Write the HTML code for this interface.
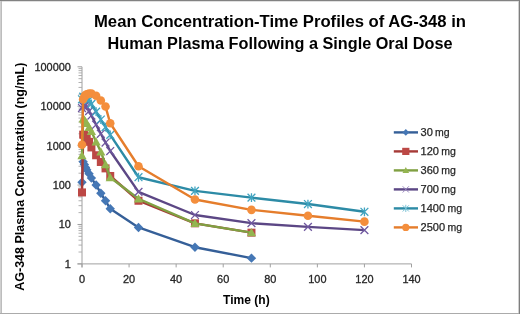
<!DOCTYPE html>
<html><head><meta charset="utf-8"><style>
html,body{margin:0;padding:0;background:#fff;width:520px;height:314px;overflow:hidden;font-family:"Liberation Sans",sans-serif;}
svg{display:block;filter:blur(0.35px)}
</style></head><body>
<svg width="520" height="314" viewBox="0 0 520 314">
<rect x="0" y="0" width="520" height="314" fill="#fff"/>
<line x1="0" y1="0.5" x2="520" y2="0.5" stroke="#828282"/>
<line x1="2" y1="1.5" x2="518" y2="1.5" stroke="#e0e0e0"/>
<line x1="0.5" y1="1" x2="0.5" y2="314" stroke="#cfcfcf"/>
<line x1="1.5" y1="1" x2="1.5" y2="313" stroke="#bdbdbd"/>
<line x1="519.5" y1="0" x2="519.5" y2="314" stroke="#7e7e7e"/>
<line x1="518.5" y1="1" x2="518.5" y2="313" stroke="#d0d0d0"/>
<line x1="0" y1="313.5" x2="519" y2="313.5" stroke="#ababab"/>
<line x1="82.0" y1="66.8" x2="82.0" y2="267.4" stroke="#A0A0A0" stroke-width="1"/>
<line x1="77.5" y1="263.9" x2="411.5" y2="263.9" stroke="#A0A0A0" stroke-width="1"/>
<line x1="77.5" y1="263.90" x2="82.0" y2="263.90" stroke="#A0A0A0" stroke-width="1"/>
<line x1="78.5" y1="252.03" x2="82.0" y2="252.03" stroke="#A8A8A8" stroke-width="0.9"/>
<line x1="78.5" y1="245.09" x2="82.0" y2="245.09" stroke="#A8A8A8" stroke-width="0.9"/>
<line x1="78.5" y1="240.17" x2="82.0" y2="240.17" stroke="#A8A8A8" stroke-width="0.9"/>
<line x1="78.5" y1="236.35" x2="82.0" y2="236.35" stroke="#A8A8A8" stroke-width="0.9"/>
<line x1="78.5" y1="233.23" x2="82.0" y2="233.23" stroke="#A8A8A8" stroke-width="0.9"/>
<line x1="78.5" y1="230.59" x2="82.0" y2="230.59" stroke="#A8A8A8" stroke-width="0.9"/>
<line x1="78.5" y1="228.30" x2="82.0" y2="228.30" stroke="#A8A8A8" stroke-width="0.9"/>
<line x1="78.5" y1="226.28" x2="82.0" y2="226.28" stroke="#A8A8A8" stroke-width="0.9"/>
<line x1="77.5" y1="224.48" x2="82.0" y2="224.48" stroke="#A0A0A0" stroke-width="1"/>
<line x1="78.5" y1="212.61" x2="82.0" y2="212.61" stroke="#A8A8A8" stroke-width="0.9"/>
<line x1="78.5" y1="205.67" x2="82.0" y2="205.67" stroke="#A8A8A8" stroke-width="0.9"/>
<line x1="78.5" y1="200.75" x2="82.0" y2="200.75" stroke="#A8A8A8" stroke-width="0.9"/>
<line x1="78.5" y1="196.93" x2="82.0" y2="196.93" stroke="#A8A8A8" stroke-width="0.9"/>
<line x1="78.5" y1="193.81" x2="82.0" y2="193.81" stroke="#A8A8A8" stroke-width="0.9"/>
<line x1="78.5" y1="191.17" x2="82.0" y2="191.17" stroke="#A8A8A8" stroke-width="0.9"/>
<line x1="78.5" y1="188.88" x2="82.0" y2="188.88" stroke="#A8A8A8" stroke-width="0.9"/>
<line x1="78.5" y1="186.86" x2="82.0" y2="186.86" stroke="#A8A8A8" stroke-width="0.9"/>
<line x1="77.5" y1="185.06" x2="82.0" y2="185.06" stroke="#A0A0A0" stroke-width="1"/>
<line x1="78.5" y1="173.19" x2="82.0" y2="173.19" stroke="#A8A8A8" stroke-width="0.9"/>
<line x1="78.5" y1="166.25" x2="82.0" y2="166.25" stroke="#A8A8A8" stroke-width="0.9"/>
<line x1="78.5" y1="161.33" x2="82.0" y2="161.33" stroke="#A8A8A8" stroke-width="0.9"/>
<line x1="78.5" y1="157.51" x2="82.0" y2="157.51" stroke="#A8A8A8" stroke-width="0.9"/>
<line x1="78.5" y1="154.39" x2="82.0" y2="154.39" stroke="#A8A8A8" stroke-width="0.9"/>
<line x1="78.5" y1="151.75" x2="82.0" y2="151.75" stroke="#A8A8A8" stroke-width="0.9"/>
<line x1="78.5" y1="149.46" x2="82.0" y2="149.46" stroke="#A8A8A8" stroke-width="0.9"/>
<line x1="78.5" y1="147.44" x2="82.0" y2="147.44" stroke="#A8A8A8" stroke-width="0.9"/>
<line x1="77.5" y1="145.64" x2="82.0" y2="145.64" stroke="#A0A0A0" stroke-width="1"/>
<line x1="78.5" y1="133.77" x2="82.0" y2="133.77" stroke="#A8A8A8" stroke-width="0.9"/>
<line x1="78.5" y1="126.83" x2="82.0" y2="126.83" stroke="#A8A8A8" stroke-width="0.9"/>
<line x1="78.5" y1="121.91" x2="82.0" y2="121.91" stroke="#A8A8A8" stroke-width="0.9"/>
<line x1="78.5" y1="118.09" x2="82.0" y2="118.09" stroke="#A8A8A8" stroke-width="0.9"/>
<line x1="78.5" y1="114.97" x2="82.0" y2="114.97" stroke="#A8A8A8" stroke-width="0.9"/>
<line x1="78.5" y1="112.33" x2="82.0" y2="112.33" stroke="#A8A8A8" stroke-width="0.9"/>
<line x1="78.5" y1="110.04" x2="82.0" y2="110.04" stroke="#A8A8A8" stroke-width="0.9"/>
<line x1="78.5" y1="108.02" x2="82.0" y2="108.02" stroke="#A8A8A8" stroke-width="0.9"/>
<line x1="77.5" y1="106.22" x2="82.0" y2="106.22" stroke="#A0A0A0" stroke-width="1"/>
<line x1="78.5" y1="94.35" x2="82.0" y2="94.35" stroke="#A8A8A8" stroke-width="0.9"/>
<line x1="78.5" y1="87.41" x2="82.0" y2="87.41" stroke="#A8A8A8" stroke-width="0.9"/>
<line x1="78.5" y1="82.49" x2="82.0" y2="82.49" stroke="#A8A8A8" stroke-width="0.9"/>
<line x1="78.5" y1="78.67" x2="82.0" y2="78.67" stroke="#A8A8A8" stroke-width="0.9"/>
<line x1="78.5" y1="75.55" x2="82.0" y2="75.55" stroke="#A8A8A8" stroke-width="0.9"/>
<line x1="78.5" y1="72.91" x2="82.0" y2="72.91" stroke="#A8A8A8" stroke-width="0.9"/>
<line x1="78.5" y1="70.62" x2="82.0" y2="70.62" stroke="#A8A8A8" stroke-width="0.9"/>
<line x1="78.5" y1="68.60" x2="82.0" y2="68.60" stroke="#A8A8A8" stroke-width="0.9"/>
<line x1="77.5" y1="66.80" x2="82.0" y2="66.80" stroke="#A0A0A0" stroke-width="1"/>
<line x1="82.00" y1="263.9" x2="82.00" y2="267.4" stroke="#A0A0A0" stroke-width="1"/>
<line x1="129.07" y1="263.9" x2="129.07" y2="267.4" stroke="#A0A0A0" stroke-width="1"/>
<line x1="176.14" y1="263.9" x2="176.14" y2="267.4" stroke="#A0A0A0" stroke-width="1"/>
<line x1="223.21" y1="263.9" x2="223.21" y2="267.4" stroke="#A0A0A0" stroke-width="1"/>
<line x1="270.29" y1="263.9" x2="270.29" y2="267.4" stroke="#A0A0A0" stroke-width="1"/>
<line x1="317.36" y1="263.9" x2="317.36" y2="267.4" stroke="#A0A0A0" stroke-width="1"/>
<line x1="364.43" y1="263.9" x2="364.43" y2="267.4" stroke="#A0A0A0" stroke-width="1"/>
<line x1="411.50" y1="263.9" x2="411.50" y2="267.4" stroke="#A0A0A0" stroke-width="1"/>
<polyline points="82.00,182.23 83.18,161.76 84.35,164.62 85.53,167.43 86.71,169.72 89.06,173.63 91.41,178.12 96.12,185.06 100.83,193.24 105.54,200.75 110.24,208.79 138.49,227.46 194.97,247.22 251.46,258.14" fill="none" stroke="#355F98" stroke-width="2.4" stroke-linejoin="round"/>
<path d="M82.00 177.53L86.70 182.23L82.00 186.93L77.30 182.23Z" fill="#4577B5"/>
<path d="M83.18 157.06L87.88 161.76L83.18 166.46L78.48 161.76Z" fill="#4577B5"/>
<path d="M84.35 159.92L89.05 164.62L84.35 169.32L79.65 164.62Z" fill="#4577B5"/>
<path d="M85.53 162.73L90.23 167.43L85.53 172.13L80.83 167.43Z" fill="#4577B5"/>
<path d="M86.71 165.02L91.41 169.72L86.71 174.42L82.01 169.72Z" fill="#4577B5"/>
<path d="M89.06 168.93L93.76 173.63L89.06 178.33L84.36 173.63Z" fill="#4577B5"/>
<path d="M91.41 173.42L96.11 178.12L91.41 182.82L86.71 178.12Z" fill="#4577B5"/>
<path d="M96.12 180.36L100.82 185.06L96.12 189.76L91.42 185.06Z" fill="#4577B5"/>
<path d="M100.83 188.54L105.53 193.24L100.83 197.94L96.13 193.24Z" fill="#4577B5"/>
<path d="M105.54 196.05L110.24 200.75L105.54 205.45L100.84 200.75Z" fill="#4577B5"/>
<path d="M110.24 204.09L114.94 208.79L110.24 213.49L105.54 208.79Z" fill="#4577B5"/>
<path d="M138.49 222.76L143.19 227.46L138.49 232.16L133.79 227.46Z" fill="#4577B5"/>
<path d="M194.97 242.52L199.67 247.22L194.97 251.92L190.27 247.22Z" fill="#4577B5"/>
<path d="M251.46 253.44L256.16 258.14L251.46 262.84L246.76 258.14Z" fill="#4577B5"/>
<polyline points="82.00,192.43 83.18,134.65 84.35,135.11 85.53,136.56 86.71,138.70 89.06,141.82 91.41,147.44 96.12,155.26 100.83,161.98 105.54,168.38 110.24,175.98 138.49,200.75 194.97,223.32 251.46,232.66" fill="none" stroke="#A63A37" stroke-width="2.4" stroke-linejoin="round"/>
<rect x="78.00" y="188.43" width="8.00" height="8.00" fill="#BC4845"/>
<rect x="79.18" y="130.65" width="8.00" height="8.00" fill="#BC4845"/>
<rect x="80.35" y="131.11" width="8.00" height="8.00" fill="#BC4845"/>
<rect x="81.53" y="132.56" width="8.00" height="8.00" fill="#BC4845"/>
<rect x="82.71" y="134.70" width="8.00" height="8.00" fill="#BC4845"/>
<rect x="85.06" y="137.82" width="8.00" height="8.00" fill="#BC4845"/>
<rect x="87.41" y="143.44" width="8.00" height="8.00" fill="#BC4845"/>
<rect x="92.12" y="151.26" width="8.00" height="8.00" fill="#BC4845"/>
<rect x="96.83" y="157.98" width="8.00" height="8.00" fill="#BC4845"/>
<rect x="101.54" y="164.38" width="8.00" height="8.00" fill="#BC4845"/>
<rect x="106.24" y="171.98" width="8.00" height="8.00" fill="#BC4845"/>
<rect x="134.49" y="196.75" width="8.00" height="8.00" fill="#BC4845"/>
<rect x="190.97" y="219.32" width="8.00" height="8.00" fill="#BC4845"/>
<rect x="247.46" y="228.66" width="8.00" height="8.00" fill="#BC4845"/>
<polyline points="82.00,155.57 83.18,118.79 84.35,119.89 85.53,121.48 86.71,123.24 89.06,127.41 91.41,131.38 96.12,141.82 100.83,151.75 105.54,164.62 110.24,177.56 138.49,198.73 194.97,223.32 251.46,232.66" fill="none" stroke="#80A042" stroke-width="2.4" stroke-linejoin="round"/>
<path d="M82.00 150.97L86.60 159.25L77.40 159.25Z" fill="#94B550"/>
<path d="M83.18 114.19L87.78 122.47L78.58 122.47Z" fill="#94B550"/>
<path d="M84.35 115.29L88.95 123.57L79.75 123.57Z" fill="#94B550"/>
<path d="M85.53 116.88L90.13 125.16L80.93 125.16Z" fill="#94B550"/>
<path d="M86.71 118.64L91.31 126.92L82.11 126.92Z" fill="#94B550"/>
<path d="M89.06 122.81L93.66 131.09L84.46 131.09Z" fill="#94B550"/>
<path d="M91.41 126.78L96.01 135.06L86.81 135.06Z" fill="#94B550"/>
<path d="M96.12 137.22L100.72 145.50L91.52 145.50Z" fill="#94B550"/>
<path d="M100.83 147.15L105.43 155.43L96.23 155.43Z" fill="#94B550"/>
<path d="M105.54 160.02L110.14 168.30L100.94 168.30Z" fill="#94B550"/>
<path d="M110.24 172.96L114.84 181.24L105.64 181.24Z" fill="#94B550"/>
<path d="M138.49 194.13L143.09 202.41L133.89 202.41Z" fill="#94B550"/>
<path d="M194.97 218.72L199.57 227.00L190.37 227.00Z" fill="#94B550"/>
<path d="M251.46 228.06L256.06 236.34L246.86 236.34Z" fill="#94B550"/>
<polyline points="82.00,108.02 83.18,106.22 84.35,105.38 85.53,105.55 86.71,106.74 89.06,111.15 91.41,115.55 96.12,124.69 100.83,133.77 105.54,142.52 110.24,151.03 138.49,191.92 194.97,215.00 251.46,223.16 307.94,226.86 364.43,230.10" fill="none" stroke="#5C4785" stroke-width="2.4" stroke-linejoin="round"/>
<path d="M78.10 104.12L85.90 111.92M85.90 104.12L78.10 111.92" stroke="#7058A0" stroke-width="1.3" fill="none"/>
<path d="M79.28 102.32L87.08 110.12M87.08 102.32L79.28 110.12" stroke="#7058A0" stroke-width="1.3" fill="none"/>
<path d="M80.45 101.48L88.25 109.28M88.25 101.48L80.45 109.28" stroke="#7058A0" stroke-width="1.3" fill="none"/>
<path d="M81.63 101.65L89.43 109.45M89.43 101.65L81.63 109.45" stroke="#7058A0" stroke-width="1.3" fill="none"/>
<path d="M82.81 102.84L90.61 110.64M90.61 102.84L82.81 110.64" stroke="#7058A0" stroke-width="1.3" fill="none"/>
<path d="M85.16 107.25L92.96 115.05M92.96 107.25L85.16 115.05" stroke="#7058A0" stroke-width="1.3" fill="none"/>
<path d="M87.51 111.65L95.31 119.45M95.31 111.65L87.51 119.45" stroke="#7058A0" stroke-width="1.3" fill="none"/>
<path d="M92.22 120.79L100.02 128.59M100.02 120.79L92.22 128.59" stroke="#7058A0" stroke-width="1.3" fill="none"/>
<path d="M96.93 129.87L104.73 137.67M104.73 129.87L96.93 137.67" stroke="#7058A0" stroke-width="1.3" fill="none"/>
<path d="M101.64 138.62L109.44 146.42M109.44 138.62L101.64 146.42" stroke="#7058A0" stroke-width="1.3" fill="none"/>
<path d="M106.34 147.13L114.14 154.93M114.14 147.13L106.34 154.93" stroke="#7058A0" stroke-width="1.3" fill="none"/>
<path d="M134.59 188.02L142.39 195.82M142.39 188.02L134.59 195.82" stroke="#7058A0" stroke-width="1.3" fill="none"/>
<path d="M191.07 211.10L198.87 218.90M198.87 211.10L191.07 218.90" stroke="#7058A0" stroke-width="1.3" fill="none"/>
<path d="M247.56 219.26L255.36 227.06M255.36 219.26L247.56 227.06" stroke="#7058A0" stroke-width="1.3" fill="none"/>
<path d="M304.04 222.96L311.84 230.76M311.84 222.96L304.04 230.76" stroke="#7058A0" stroke-width="1.3" fill="none"/>
<path d="M360.53 226.20L368.33 234.00M368.33 226.20L360.53 234.00" stroke="#7058A0" stroke-width="1.3" fill="none"/>
<polyline points="82.00,99.28 83.18,96.64 84.35,97.14 85.53,97.65 86.71,98.17 89.06,99.98 91.41,103.83 96.12,111.61 100.83,119.51 105.54,127.12 110.24,134.92 138.49,177.23 194.97,190.92 251.46,197.63 307.94,204.04 364.43,211.78" fill="none" stroke="#2D8BA6" stroke-width="2.4" stroke-linejoin="round"/>
<path d="M78.10 95.38L85.90 103.18M85.90 95.38L78.10 103.18M82.00 94.88L82.00 103.68" stroke="#40A4C0" stroke-width="1.3" fill="none"/>
<path d="M79.28 92.74L87.08 100.54M87.08 92.74L79.28 100.54M83.18 92.24L83.18 101.04" stroke="#40A4C0" stroke-width="1.3" fill="none"/>
<path d="M80.45 93.24L88.25 101.04M88.25 93.24L80.45 101.04M84.35 92.74L84.35 101.54" stroke="#40A4C0" stroke-width="1.3" fill="none"/>
<path d="M81.63 93.75L89.43 101.55M89.43 93.75L81.63 101.55M85.53 93.25L85.53 102.05" stroke="#40A4C0" stroke-width="1.3" fill="none"/>
<path d="M82.81 94.27L90.61 102.07M90.61 94.27L82.81 102.07M86.71 93.77L86.71 102.57" stroke="#40A4C0" stroke-width="1.3" fill="none"/>
<path d="M85.16 96.08L92.96 103.88M92.96 96.08L85.16 103.88M89.06 95.58L89.06 104.38" stroke="#40A4C0" stroke-width="1.3" fill="none"/>
<path d="M87.51 99.93L95.31 107.73M95.31 99.93L87.51 107.73M91.41 99.43L91.41 108.23" stroke="#40A4C0" stroke-width="1.3" fill="none"/>
<path d="M92.22 107.71L100.02 115.51M100.02 107.71L92.22 115.51M96.12 107.21L96.12 116.01" stroke="#40A4C0" stroke-width="1.3" fill="none"/>
<path d="M96.93 115.61L104.73 123.41M104.73 115.61L96.93 123.41M100.83 115.11L100.83 123.91" stroke="#40A4C0" stroke-width="1.3" fill="none"/>
<path d="M101.64 123.22L109.44 131.02M109.44 123.22L101.64 131.02M105.54 122.72L105.54 131.52" stroke="#40A4C0" stroke-width="1.3" fill="none"/>
<path d="M106.34 131.02L114.14 138.82M114.14 131.02L106.34 138.82M110.24 130.52L110.24 139.32" stroke="#40A4C0" stroke-width="1.3" fill="none"/>
<path d="M134.59 173.33L142.39 181.13M142.39 173.33L134.59 181.13M138.49 172.83L138.49 181.63" stroke="#40A4C0" stroke-width="1.3" fill="none"/>
<path d="M191.07 187.02L198.87 194.82M198.87 187.02L191.07 194.82M194.97 186.52L194.97 195.32" stroke="#40A4C0" stroke-width="1.3" fill="none"/>
<path d="M247.56 193.73L255.36 201.53M255.36 193.73L247.56 201.53M251.46 193.23L251.46 202.03" stroke="#40A4C0" stroke-width="1.3" fill="none"/>
<path d="M304.04 200.14L311.84 207.94M311.84 200.14L304.04 207.94M307.94 199.64L307.94 208.44" stroke="#40A4C0" stroke-width="1.3" fill="none"/>
<path d="M360.53 207.88L368.33 215.68M368.33 207.88L360.53 215.68M364.43 207.38L364.43 216.18" stroke="#40A4C0" stroke-width="1.3" fill="none"/>
<polyline points="82.00,144.80 83.18,99.28 84.35,96.64 85.53,95.23 86.71,94.35 89.06,93.52 91.41,93.52 96.12,95.69 100.83,100.46 105.54,106.57 110.24,123.24 138.49,166.25 194.97,199.51 251.46,209.85 307.94,215.70 364.43,221.65" fill="none" stroke="#E57D2C" stroke-width="2.4" stroke-linejoin="round"/>
<circle cx="82.00" cy="144.80" r="4.30" fill="#F48E3C"/>
<circle cx="83.18" cy="99.28" r="4.30" fill="#F48E3C"/>
<circle cx="84.35" cy="96.64" r="4.30" fill="#F48E3C"/>
<circle cx="85.53" cy="95.23" r="4.30" fill="#F48E3C"/>
<circle cx="86.71" cy="94.35" r="4.30" fill="#F48E3C"/>
<circle cx="89.06" cy="93.52" r="4.30" fill="#F48E3C"/>
<circle cx="91.41" cy="93.52" r="4.30" fill="#F48E3C"/>
<circle cx="96.12" cy="95.69" r="4.30" fill="#F48E3C"/>
<circle cx="100.83" cy="100.46" r="4.30" fill="#F48E3C"/>
<circle cx="105.54" cy="106.57" r="4.30" fill="#F48E3C"/>
<circle cx="110.24" cy="123.24" r="4.30" fill="#F48E3C"/>
<circle cx="138.49" cy="166.25" r="4.30" fill="#F48E3C"/>
<circle cx="194.97" cy="199.51" r="4.30" fill="#F48E3C"/>
<circle cx="251.46" cy="209.85" r="4.30" fill="#F48E3C"/>
<circle cx="307.94" cy="215.70" r="4.30" fill="#F48E3C"/>
<circle cx="364.43" cy="221.65" r="4.30" fill="#F48E3C"/>
<text x="70.9" y="267.80" font-family="Liberation Sans, sans-serif" font-size="11" text-anchor="end" fill="#262626" stroke="#262626" stroke-width="0.3" textLength="6.1" lengthAdjust="spacingAndGlyphs">1</text>
<text x="70.9" y="228.38" font-family="Liberation Sans, sans-serif" font-size="11" text-anchor="end" fill="#262626" stroke="#262626" stroke-width="0.3" textLength="12.2" lengthAdjust="spacingAndGlyphs">10</text>
<text x="70.9" y="188.96" font-family="Liberation Sans, sans-serif" font-size="11" text-anchor="end" fill="#262626" stroke="#262626" stroke-width="0.3" textLength="18.2" lengthAdjust="spacingAndGlyphs">100</text>
<text x="70.9" y="149.54" font-family="Liberation Sans, sans-serif" font-size="11" text-anchor="end" fill="#262626" stroke="#262626" stroke-width="0.3" textLength="24.3" lengthAdjust="spacingAndGlyphs">1000</text>
<text x="70.9" y="110.12" font-family="Liberation Sans, sans-serif" font-size="11" text-anchor="end" fill="#262626" stroke="#262626" stroke-width="0.3" textLength="30.4" lengthAdjust="spacingAndGlyphs">10000</text>
<text x="70.9" y="70.70" font-family="Liberation Sans, sans-serif" font-size="11" text-anchor="end" fill="#262626" stroke="#262626" stroke-width="0.3" textLength="36.5" lengthAdjust="spacingAndGlyphs">100000</text>
<text x="82.00" y="283.2" font-family="Liberation Sans, sans-serif" font-size="11" text-anchor="middle" fill="#262626" stroke="#262626" stroke-width="0.3" textLength="6.1" lengthAdjust="spacingAndGlyphs">0</text>
<text x="129.07" y="283.2" font-family="Liberation Sans, sans-serif" font-size="11" text-anchor="middle" fill="#262626" stroke="#262626" stroke-width="0.3" textLength="12.2" lengthAdjust="spacingAndGlyphs">20</text>
<text x="176.14" y="283.2" font-family="Liberation Sans, sans-serif" font-size="11" text-anchor="middle" fill="#262626" stroke="#262626" stroke-width="0.3" textLength="12.2" lengthAdjust="spacingAndGlyphs">40</text>
<text x="223.21" y="283.2" font-family="Liberation Sans, sans-serif" font-size="11" text-anchor="middle" fill="#262626" stroke="#262626" stroke-width="0.3" textLength="12.2" lengthAdjust="spacingAndGlyphs">60</text>
<text x="270.29" y="283.2" font-family="Liberation Sans, sans-serif" font-size="11" text-anchor="middle" fill="#262626" stroke="#262626" stroke-width="0.3" textLength="12.2" lengthAdjust="spacingAndGlyphs">80</text>
<text x="317.36" y="283.2" font-family="Liberation Sans, sans-serif" font-size="11" text-anchor="middle" fill="#262626" stroke="#262626" stroke-width="0.3" textLength="18.2" lengthAdjust="spacingAndGlyphs">100</text>
<text x="364.43" y="283.2" font-family="Liberation Sans, sans-serif" font-size="11" text-anchor="middle" fill="#262626" stroke="#262626" stroke-width="0.3" textLength="18.2" lengthAdjust="spacingAndGlyphs">120</text>
<text x="411.50" y="283.2" font-family="Liberation Sans, sans-serif" font-size="11" text-anchor="middle" fill="#262626" stroke="#262626" stroke-width="0.3" textLength="18.2" lengthAdjust="spacingAndGlyphs">140</text>
<text x="280" y="26.5" font-family="Liberation Sans, sans-serif" font-weight="bold" font-size="16" text-anchor="middle" fill="#000" textLength="372" lengthAdjust="spacingAndGlyphs">Mean Concentration-Time Profiles of AG-348 in</text>
<text x="280" y="48.8" font-family="Liberation Sans, sans-serif" font-weight="bold" font-size="16" text-anchor="middle" fill="#000" textLength="345" lengthAdjust="spacingAndGlyphs">Human Plasma Following a Single Oral Dose</text>
<text x="246.4" y="303.8" font-family="Liberation Sans, sans-serif" font-weight="bold" font-size="12" text-anchor="middle" fill="#000" textLength="46.6" lengthAdjust="spacingAndGlyphs">Time (h)</text>
<text transform="translate(23.5,176.7) rotate(-90)" x="0" y="0" font-family="Liberation Sans, sans-serif" font-weight="bold" font-size="12" text-anchor="middle" fill="#000" textLength="228" lengthAdjust="spacingAndGlyphs">AG-348 Plasma Concentration (ng/mL)</text>
<line x1="393.8" y1="132.40" x2="418" y2="132.40" stroke="#355F98" stroke-width="2.4"/>
<path d="M405.80 129.11L409.09 132.40L405.80 135.69L402.51 132.40Z" fill="#4577B5"/>
<text x="420.5" y="136.00" font-family="Liberation Sans, sans-serif" font-size="10.5" fill="#262626" stroke="#262626" stroke-width="0.25"><tspan textLength="12.3" lengthAdjust="spacingAndGlyphs">30</tspan><tspan x="435.1" textLength="14.6" lengthAdjust="spacingAndGlyphs">mg</tspan></text>
<line x1="393.8" y1="151.40" x2="418" y2="151.40" stroke="#A63A37" stroke-width="2.4"/>
<rect x="402.20" y="147.80" width="7.20" height="7.20" fill="#BC4845"/>
<text x="420.5" y="155.00" font-family="Liberation Sans, sans-serif" font-size="10.5" fill="#262626" stroke="#262626" stroke-width="0.25"><tspan textLength="18.5" lengthAdjust="spacingAndGlyphs">120</tspan><tspan x="441.2" textLength="14.6" lengthAdjust="spacingAndGlyphs">mg</tspan></text>
<line x1="393.8" y1="170.40" x2="418" y2="170.40" stroke="#80A042" stroke-width="2.4"/>
<path d="M405.80 167.09L409.11 173.05L402.49 173.05Z" fill="#94B550"/>
<text x="420.5" y="174.00" font-family="Liberation Sans, sans-serif" font-size="10.5" fill="#262626" stroke="#262626" stroke-width="0.25"><tspan textLength="18.5" lengthAdjust="spacingAndGlyphs">360</tspan><tspan x="441.2" textLength="14.6" lengthAdjust="spacingAndGlyphs">mg</tspan></text>
<line x1="393.8" y1="189.40" x2="418" y2="189.40" stroke="#5C4785" stroke-width="2.4"/>
<path d="M402.68 186.28L408.92 192.52M408.92 186.28L402.68 192.52" stroke="#9A88C0" stroke-width="1.0" fill="none"/>
<text x="420.5" y="193.00" font-family="Liberation Sans, sans-serif" font-size="10.5" fill="#262626" stroke="#262626" stroke-width="0.25"><tspan textLength="18.5" lengthAdjust="spacingAndGlyphs">700</tspan><tspan x="441.2" textLength="14.6" lengthAdjust="spacingAndGlyphs">mg</tspan></text>
<line x1="393.8" y1="208.40" x2="418" y2="208.40" stroke="#2D8BA6" stroke-width="2.4"/>
<path d="M402.68 205.28L408.92 211.52M408.92 205.28L402.68 211.52M405.80 204.78L405.80 212.02" stroke="#7CC4D8" stroke-width="1.0" fill="none"/>
<text x="420.5" y="212.00" font-family="Liberation Sans, sans-serif" font-size="10.5" fill="#262626" stroke="#262626" stroke-width="0.25"><tspan textLength="24.6" lengthAdjust="spacingAndGlyphs">1400</tspan><tspan x="447.4" textLength="14.6" lengthAdjust="spacingAndGlyphs">mg</tspan></text>
<line x1="393.8" y1="227.40" x2="418" y2="227.40" stroke="#E57D2C" stroke-width="2.4"/>
<circle cx="405.80" cy="227.40" r="3.61" fill="#F48E3C"/>
<text x="420.5" y="231.00" font-family="Liberation Sans, sans-serif" font-size="10.5" fill="#262626" stroke="#262626" stroke-width="0.25"><tspan textLength="24.6" lengthAdjust="spacingAndGlyphs">2500</tspan><tspan x="447.4" textLength="14.6" lengthAdjust="spacingAndGlyphs">mg</tspan></text>
</svg>
</body></html>
